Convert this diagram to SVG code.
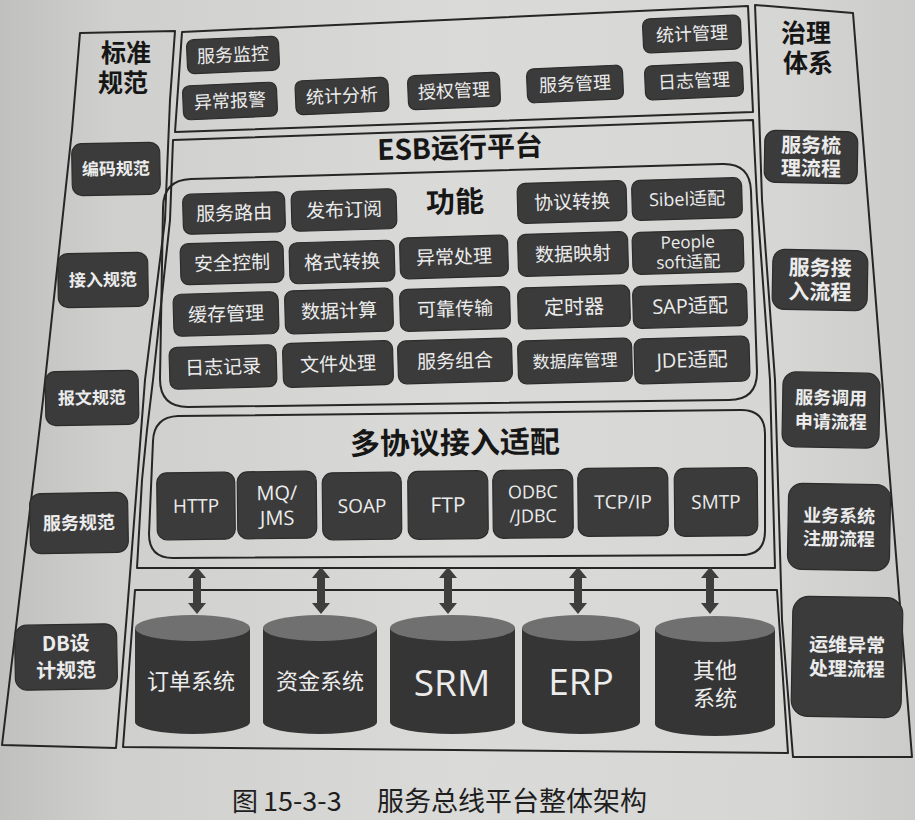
<svg xmlns="http://www.w3.org/2000/svg" width="915" height="820" viewBox="0 0 915 820">
  <defs>
    <linearGradient id="paper" x1="0" y1="0" x2="1" y2="0">
      <stop offset="0" stop-color="#c0c0be"/>
      <stop offset="0.12" stop-color="#cfcfcd"/>
      <stop offset="0.5" stop-color="#dadad8"/>
      <stop offset="0.85" stop-color="#d6d6d4"/>
      <stop offset="1" stop-color="#cbcbc9"/>
    </linearGradient>
    <marker id="head" viewBox="0 0 10 10" refX="0" refY="5" markerWidth="11" markerHeight="18" markerUnits="userSpaceOnUse" orient="auto-start-reverse" preserveAspectRatio="none">
      <path d="M0,0 L10,5 L0,10 Z" fill="#3e3e3e"/>
    </marker>
    <style>
      .pn{fill:none;stroke:#262626;stroke-width:2;stroke-linejoin:round}
      .bx{fill:#3b3b3b;stroke:#2c2c2c;stroke-width:1.2}
      .cj{font-family:"Noto Sans CJK SC","Noto Sans",sans-serif;fill:#ececec;text-anchor:middle}
      .la{font-family:"Open Sans","Noto Sans CJK SC",sans-serif;fill:#ececec;text-anchor:middle}
      .b{font-weight:700}
      .hd{font-family:"Noto Sans CJK SC","Open Sans",sans-serif;fill:#161616;font-weight:700;text-anchor:middle}
      .cap{font-family:"Noto Sans CJK SC","Noto Sans",sans-serif;fill:#1e1e1e}
      .cyl-body{fill:#353535}
      .cyl-top{fill:#707070}
      .arw{stroke:#3e3e3e;stroke-width:8;fill:none}
    </style>
  </defs>

  <!-- page -->
  <rect width="915" height="820" fill="url(#paper)"/>

  <!-- frames -->
  <g id="frames">
    <path id="std-panel" class="pn" d="M80,33 L175,31 L170,100 L165,220 L145,380 L128,600 L116,748 L2,745 L43,400 L72,130 Z"/>
    <path id="mgmt-panel" class="pn" d="M182,32 L748,6 L753,112 L175,132 Z"/>
    <path id="esb-panel" class="pn" d="M173,140 L753,120 L757,200 L770,380 L775,568 L137,568 L142,480 L147,430 L153,380 L170,220 Z"/>
    <path id="func-panel" class="pn" d="M191,179 L722,164 Q750,163 751,191 L757,372 Q757,400 729,400 L188,407 Q160,407 160,379 L163,208 Q163,180 191,179 Z"/>
    <path id="proto-panel" class="pn" d="M178,416 L741,410 Q765,410 765,434 L765,531 Q765,555 741,555 L173,558 Q149,558 149,534 L153,441 Q154,417 178,416 Z"/>
    <path id="sys-panel" class="pn" d="M135,590 L777,590 L788,753 L123,747 Z"/>
    <path id="gov-panel" class="pn" d="M755,5 L853,13 L912,757 L793,757 L782,620 L775,380 L762,200 L758,80 Z"/>
  </g>

  <!-- headings -->
  <g id="headings">
    <text class="hd" font-size="25"><tspan x="126" y="53" dy=".35em">标准</tspan><tspan x="123" y="83" dy=".35em">规范</tspan></text>
    <text class="hd" font-size="25"><tspan x="806" y="33" dy=".35em">治理</tspan><tspan x="808" y="63" dy=".35em">体系</tspan></text>
    <text class="hd" x="460" y="148" dy=".35em" font-size="28" transform="rotate(-1.6 460 148)">ESB运行平台</text>
    <text class="hd" x="455" y="202" dy=".35em" font-size="29" transform="rotate(-1.5 455 202)">功能</text>
    <text class="hd" x="455" y="443" dy=".35em" font-size="30" transform="rotate(-0.6 455 443)">多协议接入适配</text>
  </g>

  <!-- management row -->
  <g id="n-monitor" transform="translate(233 55) rotate(-2.5)"><rect class="bx" x="-46" y="-17" width="92" height="34" rx="7"/><text class="cj" dy=".35em" font-size="18">服务监控</text></g>
  <g id="n-alarm" transform="translate(230 101) rotate(-2.5)"><rect class="bx" x="-47" y="-17" width="94" height="34" rx="7"/><text class="cj" dy=".35em" font-size="18">异常报警</text></g>
  <g id="n-statana" transform="translate(342 96) rotate(-2.5)"><rect class="bx" x="-46.5" y="-17" width="93" height="34" rx="7"/><text class="cj" dy=".35em" font-size="18">统计分析</text></g>
  <g id="n-auth" transform="translate(454 91) rotate(-2.5)"><rect class="bx" x="-46" y="-17" width="92" height="34" rx="7"/><text class="cj" dy=".35em" font-size="18">授权管理</text></g>
  <g id="n-svcmgmt" transform="translate(575 84) rotate(-2.5)"><rect class="bx" x="-48" y="-17" width="96" height="34" rx="7"/><text class="cj" dy=".35em" font-size="18">服务管理</text></g>
  <g id="n-logmgmt" transform="translate(694 81) rotate(-2.5)"><rect class="bx" x="-49" y="-17" width="98" height="34" rx="7"/><text class="cj" dy=".35em" font-size="18">日志管理</text></g>
  <g id="n-statmgmt" transform="translate(692 34) rotate(-2.5)"><rect class="bx" x="-49" y="-17" width="98" height="34" rx="7"/><text class="cj" dy=".35em" font-size="18">统计管理</text></g>

  <!-- standards column -->
  <g id="n-coding" transform="translate(116 169) rotate(-1)"><rect class="bx" x="-44" y="-26" width="88" height="52" rx="10"/><text class="cj b" dy=".35em" font-size="17">编码规范</text></g>
  <g id="n-access" transform="translate(103 280) rotate(-1)"><rect class="bx" x="-45" y="-27" width="90" height="54" rx="10"/><text class="cj b" dy=".35em" font-size="17">接入规范</text></g>
  <g id="n-message" transform="translate(92 398) rotate(-1)"><rect class="bx" x="-46.5" y="-27" width="93" height="54" rx="10"/><text class="cj b" dy=".35em" font-size="17">报文规范</text></g>
  <g id="n-service" transform="translate(79 523) rotate(-1)"><rect class="bx" x="-49" y="-30" width="98" height="60" rx="11"/><text class="cj b" dy=".35em" font-size="18">服务规范</text></g>
  <g id="n-dbdesign" transform="translate(66 657) rotate(-1)"><rect class="bx" x="-51" y="-32.5" width="102" height="65" rx="12"/><text class="cj b" font-size="20"><tspan x="0" y="-13.5" dy=".35em">DB设</tspan><tspan x="0" y="13.5" dy=".35em">计规范</tspan></text></g>

  <!-- governance column -->
  <g id="n-sort" transform="translate(811 157) rotate(1)"><rect class="bx" x="-46.5" y="-26" width="93" height="52" rx="11"/><text class="cj b" font-size="20"><tspan x="0" y="-11.5" dy=".35em">服务梳</tspan><tspan x="0" y="11.5" dy=".35em">理流程</tspan></text></g>
  <g id="n-onboard" transform="translate(820 280) rotate(1)"><rect class="bx" x="-47.5" y="-30" width="95" height="60" rx="12"/><text class="cj b" font-size="21"><tspan x="0" y="-12" dy=".35em">服务接</tspan><tspan x="0" y="12" dy=".35em">入流程</tspan></text></g>
  <g id="n-invoke" transform="translate(831 410) rotate(1)"><rect class="bx" x="-48.5" y="-37.5" width="97" height="75" rx="13"/><text class="cj b" font-size="18"><tspan x="0" y="-12" dy=".35em">服务调用</tspan><tspan x="0" y="12" dy=".35em">申请流程</tspan></text></g>
  <g id="n-register" transform="translate(839 527) rotate(1)"><rect class="bx" x="-51" y="-43" width="102" height="86" rx="14"/><text class="cj b" font-size="18"><tspan x="0" y="-11" dy=".35em">业务系统</tspan><tspan x="0" y="12" dy=".35em">注册流程</tspan></text></g>
  <g id="n-ops" transform="translate(847 657) rotate(1)"><rect class="bx" x="-55" y="-60" width="110" height="120" rx="16"/><text class="cj b" font-size="19"><tspan x="0" y="-12" dy=".35em">运维异常</tspan><tspan x="0" y="12" dy=".35em">处理流程</tspan></text></g>

  <!-- functions -->
  <g id="n-routing" transform="translate(234 213) rotate(-1.6)"><rect class="bx" x="-51" y="-20" width="102" height="40" rx="8"/><text class="cj" dy=".35em" font-size="19">服务路由</text></g>
  <g id="n-pubsub" transform="translate(344 210) rotate(-1.6)"><rect class="bx" x="-52.5" y="-20" width="105" height="40" rx="8"/><text class="cj" dy=".35em" font-size="19">发布订阅</text></g>
  <g id="n-protoconv" transform="translate(572 202) rotate(-1.6)"><rect class="bx" x="-54.5" y="-20" width="109" height="40" rx="8"/><text class="cj" dy=".35em" font-size="19">协议转换</text></g>
  <g id="n-siebel" transform="translate(687 199) rotate(-1.6)"><rect class="bx" x="-55" y="-20" width="110" height="40" rx="8"/><text class="la" dy=".35em" font-size="18">Sibel适配</text></g>

  <g id="n-security" transform="translate(232 263) rotate(-1.6)"><rect class="bx" x="-51.5" y="-20.5" width="103" height="41" rx="8"/><text class="cj" dy=".35em" font-size="19">安全控制</text></g>
  <g id="n-format" transform="translate(342 262) rotate(-1.6)"><rect class="bx" x="-52.5" y="-20.5" width="105" height="41" rx="8"/><text class="cj" dy=".35em" font-size="19">格式转换</text></g>
  <g id="n-exception" transform="translate(454 257) rotate(-1.6)"><rect class="bx" x="-54" y="-20.5" width="108" height="41" rx="8"/><text class="cj" dy=".35em" font-size="19">异常处理</text></g>
  <g id="n-mapping" transform="translate(573 254) rotate(-1.6)"><rect class="bx" x="-55" y="-21" width="110" height="42" rx="8"/><text class="cj" dy=".35em" font-size="19">数据映射</text></g>
  <g id="n-peoplesoft" transform="translate(688 252) rotate(-1.6)"><rect class="bx" x="-55.5" y="-21" width="111" height="42" rx="8"/><text class="la" font-size="17"><tspan x="0" y="-10" dy=".35em">People</tspan><tspan x="0" y="10" dy=".35em">soft适配</tspan></text></g>

  <g id="n-cache" transform="translate(226 314) rotate(-1.6)"><rect class="bx" x="-52.5" y="-21" width="105" height="42" rx="8"/><text class="cj" dy=".35em" font-size="19">缓存管理</text></g>
  <g id="n-compute" transform="translate(339 311) rotate(-1.6)"><rect class="bx" x="-54" y="-21.5" width="108" height="43" rx="8"/><text class="cj" dy=".35em" font-size="19">数据计算</text></g>
  <g id="n-reliable" transform="translate(455 309) rotate(-1.6)"><rect class="bx" x="-55" y="-21" width="110" height="42" rx="8"/><text class="cj" dy=".35em" font-size="19">可靠传输</text></g>
  <g id="n-timer" transform="translate(574 307) rotate(-1.6)"><rect class="bx" x="-56" y="-20.5" width="112" height="41" rx="8"/><text class="cj" dy=".35em" font-size="20">定时器</text></g>
  <g id="n-sap" transform="translate(690 306) rotate(-1.6)"><rect class="bx" x="-57" y="-21" width="114" height="42" rx="8"/><text class="la" dy=".35em" font-size="20">SAP适配</text></g>

  <g id="n-logging" transform="translate(223 367) rotate(-1.6)"><rect class="bx" x="-53.5" y="-21" width="107" height="42" rx="8"/><text class="cj" dy=".35em" font-size="19">日志记录</text></g>
  <g id="n-file" transform="translate(338 364) rotate(-1.6)"><rect class="bx" x="-55" y="-22" width="110" height="44" rx="8"/><text class="cj" dy=".35em" font-size="19">文件处理</text></g>
  <g id="n-compose" transform="translate(455 361) rotate(-1.6)"><rect class="bx" x="-57" y="-21.5" width="114" height="43" rx="8"/><text class="cj" dy=".35em" font-size="19">服务组合</text></g>
  <g id="n-dbmgmt" transform="translate(575 361) rotate(-1.6)"><rect class="bx" x="-57" y="-21.5" width="114" height="43" rx="8"/><text class="cj" dy=".35em" font-size="17">数据库管理</text></g>
  <g id="n-jde" transform="translate(692 360) rotate(-1.6)"><rect class="bx" x="-57.5" y="-22.5" width="115" height="45" rx="8"/><text class="la" dy=".35em" font-size="20">JDE适配</text></g>

  <!-- protocol adapters -->
  <g id="n-http" transform="translate(196 506) rotate(-0.6)"><rect class="bx" x="-39" y="-33.5" width="78" height="67" rx="10"/><text class="la" dy=".35em" font-size="19">HTTP</text></g>
  <g id="n-mqjms" transform="translate(277 505) rotate(-0.6)"><rect class="bx" x="-39.5" y="-33.5" width="79" height="67" rx="10"/><text class="la" font-size="20"><tspan x="0" y="-12" dy=".35em">MQ/</tspan><tspan x="0" y="13" dy=".35em">JMS</tspan></text></g>
  <g id="n-soap" transform="translate(362 506) rotate(-0.6)"><rect class="bx" x="-39.5" y="-33.5" width="79" height="67" rx="10"/><text class="la" dy=".35em" font-size="19">SOAP</text></g>
  <g id="n-ftp" transform="translate(448 505) rotate(-0.6)"><rect class="bx" x="-40" y="-34" width="80" height="68" rx="10"/><text class="la" dy=".35em" font-size="21">FTP</text></g>
  <g id="n-odbc" transform="translate(533 504) rotate(-0.6)"><rect class="bx" x="-40" y="-34" width="80" height="68" rx="10"/><text class="la" font-size="18"><tspan x="0" y="-12" dy=".35em">ODBC</tspan><tspan x="0" y="12" dy=".35em">/JDBC</tspan></text></g>
  <g id="n-tcpip" transform="translate(623 502) rotate(-0.6)"><rect class="bx" x="-45" y="-34" width="90" height="68" rx="10"/><text class="la" dy=".35em" font-size="19">TCP/IP</text></g>
  <g id="n-smtp" transform="translate(716 502) rotate(-0.6)"><rect class="bx" x="-41.5" y="-34" width="83" height="68" rx="10"/><text class="la" dy=".35em" font-size="19">SMTP</text></g>

  <!-- connectors between adapter layer and systems -->
  <g id="connectors">
    <line class="arw" x1="197" y1="578" x2="197" y2="603" marker-start="url(#head)" marker-end="url(#head)"/>
    <line class="arw" x1="321" y1="578" x2="321" y2="603" marker-start="url(#head)" marker-end="url(#head)"/>
    <line class="arw" x1="448" y1="578" x2="448" y2="603" marker-start="url(#head)" marker-end="url(#head)"/>
    <line class="arw" x1="578" y1="578" x2="578" y2="603" marker-start="url(#head)" marker-end="url(#head)"/>
    <line class="arw" x1="710" y1="578" x2="710" y2="603" marker-start="url(#head)" marker-end="url(#head)"/>
  </g>

  <!-- business systems -->
  <g id="n-order">
    <path class="cyl-body" d="M135,628 L135,722 A57.5,12 0 0 0 250,722 L250,628 Z"/>
    <ellipse class="cyl-top" cx="192.5" cy="628" rx="57.5" ry="13"/>
    <text class="cj" x="191" y="681" dy=".35em" font-size="22">订单系统</text>
  </g>
  <g id="n-fund">
    <path class="cyl-body" d="M263,628 L263,722 A57,12 0 0 0 377,722 L377,628 Z"/>
    <ellipse class="cyl-top" cx="320" cy="628" rx="57" ry="13"/>
    <text class="cj" x="320" y="681" dy=".35em" font-size="22">资金系统</text>
  </g>
  <g id="n-srm">
    <path class="cyl-body" d="M390,628 L390,722 A62.5,12 0 0 0 515,722 L515,628 Z"/>
    <ellipse class="cyl-top" cx="452.5" cy="628" rx="62.5" ry="13"/>
    <text class="la" x="452" y="683" dy=".35em" font-size="37">SRM</text>
  </g>
  <g id="n-erp">
    <path class="cyl-body" d="M522,628 L522,722 A59,12 0 0 0 640,722 L640,628 Z"/>
    <ellipse class="cyl-top" cx="581" cy="628" rx="59" ry="13"/>
    <text class="la" x="581" y="682" dy=".35em" font-size="37">ERP</text>
  </g>
  <g id="n-other">
    <path class="cyl-body" d="M655,629 L655,724 A60,12 0 0 0 775,724 L775,629 Z"/>
    <ellipse class="cyl-top" cx="715" cy="629" rx="60" ry="13"/>
    <text class="cj" font-size="22"><tspan x="715" y="670" dy=".35em">其他</tspan><tspan x="715" y="698" dy=".35em">系统</tspan></text>
  </g>

  <!-- caption -->
  <g id="caption">
    <text class="cap" x="232" y="811" font-size="26">图</text>
    <text class="cap" x="263" y="811" font-size="27">15-3-3</text>
    <text class="cap" x="377" y="811" font-size="27">服务总线平台整体架构</text>
  </g>
</svg>
